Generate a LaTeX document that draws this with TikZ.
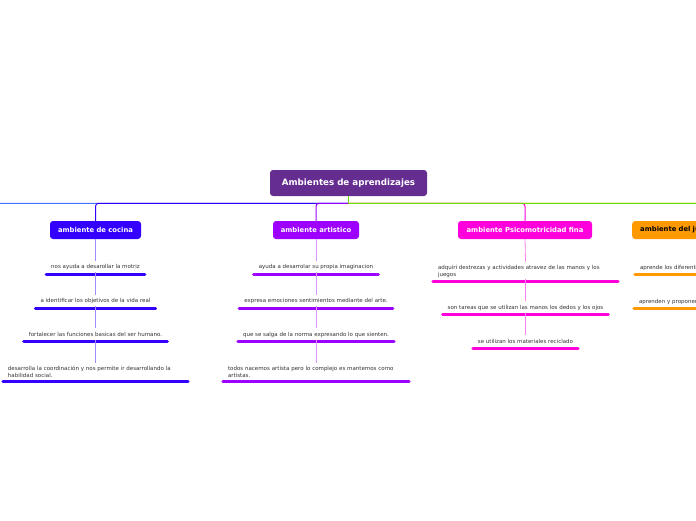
\documentclass[tikz,border=0pt]{standalone}
\usepackage{fontspec}
\setmainfont{DejaVu Sans}
\definecolor{rootc}{HTML}{662D91}
\definecolor{cocc}{HTML}{3300FF}
\definecolor{artc}{HTML}{9D00FF}
\definecolor{psic}{HTML}{FF00DD}
\definecolor{jugc}{HTML}{FF9900}
\definecolor{grnc}{HTML}{66E000}
\definecolor{lblc}{HTML}{4477FF}
\definecolor{txtc}{HTML}{333333}
\tikzset{
  rootbox/.style={fill=rootc, rounded corners=3pt, text=white, font=\fontsize{8.7}{10}\selectfont\bfseries, minimum width=157pt, minimum height=26pt, inner sep=0pt},
  topicbox/.style={fill=#1, rounded corners=3pt, text=white, font=\fontsize{6.8}{8}\selectfont\bfseries, minimum height=18pt, inner sep=0pt},
  sub/.style={font=\fontsize{5.5}{7}\selectfont, text=txtc, inner xsep=5pt, inner ysep=3.5pt, anchor=south},
  single/.style={text height=4.2pt, text depth=1.5pt},
  multi/.style={text width=#1, align=left},
  ul/.style={line width=3pt, line cap=round, draw=#1},
  conn/.style={line width=1pt, draw=#1, rounded corners=3pt},
  vconn/.style={line width=0.8pt, draw=#1},
}
\begin{document}
\begin{tikzpicture}[x=1pt,y=-1pt]
\useasboundingbox (0,0) rectangle (696,520);
\clip (0,0) rectangle (696,520);
\fill[white] (0,0) rectangle (696,520);

% root
\node[rootbox] (root) at (348.5,183) {Ambientes de aprendizajes};

% topics
\node[topicbox=cocc, minimum width=91pt] (coc) at (95.5,230) {ambiente de cocina};
\node[topicbox=artc, minimum width=86pt] (art) at (316,230) {ambiente artistico};
\node[topicbox=psic, minimum width=134pt] (psi) at (525,230) {ambiente Psicomotricidad fina};
\node[topicbox=jugc, text=black, anchor=west, inner xsep=8pt, text width=124pt, align=left] (jug) at (632,230) {ambiente del juego};

\coordinate (offl) at (-60,221);
\coordinate (offr) at (760,221);
\coordinate (hub) at (348.5,203.3);

% root connectors
\draw[conn=lblc] (hub) -| (offl);
\draw[conn=cocc] (hub) -| (coc.north);
\draw[conn=artc] (hub) -| (art.north);
\draw[conn=psic] (hub) -| (psi.north);
\draw[conn=jugc] (hub) -| (jug.north);
\draw[conn=grnc] (hub) -| (offr);
\draw[line width=1pt, draw=grnc] (root.south) -- (hub);

% cocina
\node[sub, single] (c1) at (95.5,274) {nos ayuda a desarollar la motriz};
\node[sub, single] (c2) at (95.5,308) {a identificar los objetivos de la vida real};
\node[sub, single] (c3) at (95.5,341.5) {fortalecer las funciones basicas del ser humano.};
\node[sub, multi=175pt] (c4) at (95.5,381.5) {desarrolla la coordinación y nos permite ir desarrollando la\\habilidad social.};
\foreach \n in {c1,c2,c3,c4} {\draw[ul=cocc] (\n.south west) -- (\n.south east);}
\draw[vconn=cocc!45] (coc.south) -- (c1.north);
\draw[vconn=cocc!45] ([yshift=2pt]c1.south) -- (c2.north);
\draw[vconn=cocc!45] ([yshift=2pt]c2.south) -- (c3.north);
\draw[vconn=cocc!45] ([yshift=2pt]c3.south) -- (c4.north);

% artistico
\node[sub, single] (a1) at (316,274) {ayuda a desarrolar su propia imaginacion};
\node[sub, single] (a2) at (316,308) {expresa emociones sentimientos mediante del arte.};
\node[sub, single] (a3) at (316,341.5) {que se salga de la norma expresando lo que sienten.};
\node[sub, multi=176pt] (a4) at (316,381.5) {todos nacemos artista pero lo complejo es mantemos como\\artistas.};
\foreach \n in {a1,a2,a3,a4} {\draw[ul=artc] (\n.south west) -- (\n.south east);}
\draw[vconn=artc!40] (art.south) -- (a1.north);
\draw[vconn=artc!40] ([yshift=2pt]a1.south) -- (a2.north);
\draw[vconn=artc!40] ([yshift=2pt]a2.south) -- (a3.north);
\draw[vconn=artc!40] ([yshift=2pt]a3.south) -- (a4.north);

% psicomotricidad
\node[sub, multi=175pt] (p1) at (525.5,281.3) {adquiri destrezas y actividades atravez de las manos y los\\juegos};
\node[sub, single] (p2) at (525.5,314.5) {son tareas que se utilizan las manos los dedos y los ojos};
\node[sub, single] (p3) at (525.5,348.3) {se utilizan los materiales reciclado};
\foreach \n in {p1,p2,p3} {\draw[ul=psic] (\n.south west) -- (\n.south east);}
\draw[vconn=psic!50] (psi.south) -- (p1.north);
\draw[vconn=psic!50] ([yshift=2pt]p1.south) -- (p2.north);
\draw[vconn=psic!50] ([yshift=2pt]p2.south) -- (p3.north);

% juego
\node[sub, single, multi=124pt] (j1) at (702,274.3) {aprende los diferentes juegos};
\node[sub, single, multi=126pt] (j2) at (702,308.3) {aprenden y proponen juegos};
\foreach \n in {j1,j2} {\draw[ul=jugc] (\n.south west) -- (\n.south east);}
\draw[vconn=jugc!50] (jug.south) -- (j1.north);
\draw[vconn=jugc!50] ([yshift=2pt]j1.south) -- (j2.north);
\end{tikzpicture}
\end{document}
